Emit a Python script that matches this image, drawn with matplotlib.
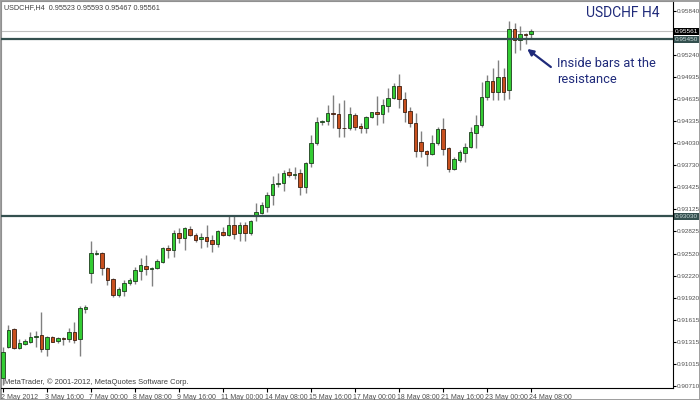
import numpy as np
import matplotlib
matplotlib.use("Agg")
import matplotlib.pyplot as plt
import matplotlib.transforms as mtransforms

plt.rcParams["font.family"] = ["Liberation Sans", "DejaVu Sans"]

# USDCHF H4 candles, 2 May 08:00 -> 24 May 08:00
opens = [0.90819, 0.91243, 0.91489, 0.91229, 0.91284, 0.91311, 0.91380, 0.91407, 0.91216, 0.91380,
         0.91325, 0.91366, 0.91353, 0.91448, 0.91353, 0.91763, 0.92255, 0.92515, 0.92529, 0.92324,
         0.92173, 0.91954, 0.92009, 0.92119, 0.92146, 0.92283, 0.92351, 0.92310, 0.92324, 0.92406,
         0.92597, 0.92570, 0.92803, 0.92734, 0.92857, 0.92775, 0.92721, 0.92748, 0.92707, 0.92652,
         0.92816, 0.92775, 0.92912, 0.92803, 0.92912, 0.92803, 0.93035, 0.93076, 0.93158, 0.93322,
         0.93473, 0.93487, 0.93637, 0.93596, 0.93623, 0.93432, 0.93760, 0.94034, 0.94321, 0.94335,
         0.94444, 0.94431, 0.94239, 0.94239, 0.94417, 0.94266, 0.94239, 0.94389, 0.94458, 0.94431,
         0.94540, 0.94649, 0.94814, 0.94636, 0.94472, 0.94307, 0.94047, 0.93924, 0.93883, 0.94034,
         0.94225, 0.93965, 0.93678, 0.93801, 0.93897, 0.93979, 0.94171, 0.94280, 0.94663, 0.94882,
         0.94731, 0.94937, 0.94759, 0.95593, 0.95443, 0.95525, 0.95523]
highs = [0.91243, 0.91544, 0.91503, 0.91353, 0.91353, 0.91448, 0.91462, 0.91722, 0.91394, 0.91394,
         0.91380, 0.91380, 0.91503, 0.91585, 0.91804, 0.91818, 0.92693, 0.92570, 0.92543, 0.92337,
         0.92187, 0.92064, 0.92160, 0.92187, 0.92337, 0.92461, 0.92502, 0.92337, 0.92447, 0.92611,
         0.92638, 0.92844, 0.92871, 0.92885, 0.92898, 0.92803, 0.92803, 0.92912, 0.92775, 0.92844,
         0.92885, 0.93049, 0.93049, 0.92953, 0.92953, 0.92980, 0.93213, 0.93227, 0.93363, 0.93582,
         0.93623, 0.93664, 0.93692, 0.93705, 0.93678, 0.93774, 0.94143, 0.94389, 0.94348, 0.94554,
         0.94690, 0.94581, 0.94622, 0.94526, 0.94444, 0.94307, 0.94403, 0.94458, 0.94677, 0.94636,
         0.94786, 0.94855, 0.94978, 0.94731, 0.94526, 0.94444, 0.94198, 0.93938, 0.94143, 0.94253,
         0.94376, 0.93979, 0.93842, 0.93938, 0.94034, 0.94253, 0.94417, 0.94868, 0.94964, 0.95060,
         0.95169, 0.95060, 0.95703, 0.95675, 0.95634, 0.95539, 0.95593]
lows = [0.90723, 0.91229, 0.91216, 0.91216, 0.91270, 0.91298, 0.91243, 0.91175, 0.91120, 0.91311,
        0.91298, 0.91270, 0.91311, 0.91298, 0.91120, 0.91708, 0.92119, 0.92502, 0.92228, 0.92091,
        0.91927, 0.91927, 0.91941, 0.92091, 0.92105, 0.92160, 0.92228, 0.92078, 0.92310, 0.92392,
        0.92461, 0.92474, 0.92666, 0.92570, 0.92762, 0.92679, 0.92597, 0.92611, 0.92543, 0.92611,
        0.92762, 0.92762, 0.92721, 0.92693, 0.92693, 0.92775, 0.92967, 0.93063, 0.93090, 0.93186,
        0.93432, 0.93377, 0.93569, 0.93541, 0.93322, 0.93350, 0.93705, 0.94006, 0.94280, 0.94280,
        0.94239, 0.94116, 0.94116, 0.94212, 0.94212, 0.94171, 0.94171, 0.94376, 0.94280, 0.94307,
        0.94458, 0.94636, 0.94513, 0.94321, 0.94253, 0.93842, 0.93842, 0.93719, 0.93870, 0.94006,
        0.93870, 0.93637, 0.93664, 0.93774, 0.93774, 0.93965, 0.93965, 0.94253, 0.94622, 0.94622,
        0.94622, 0.94622, 0.94636, 0.95265, 0.95306, 0.95388, 0.95467]
closes = [0.91175, 0.91476, 0.91229, 0.91298, 0.91325, 0.91380, 0.91394, 0.91216, 0.91380, 0.91311,
          0.91366, 0.91353, 0.91448, 0.91339, 0.91777, 0.91790, 0.92529, 0.92529, 0.92324, 0.92160,
          0.91954, 0.92037, 0.92119, 0.92160, 0.92296, 0.92365, 0.92310, 0.92324, 0.92420, 0.92597,
          0.92570, 0.92803, 0.92734, 0.92871, 0.92775, 0.92707, 0.92748, 0.92693, 0.92652, 0.92830,
          0.92775, 0.92912, 0.92789, 0.92912, 0.92803, 0.92967, 0.93090, 0.93186, 0.93322, 0.93473,
          0.93487, 0.93623, 0.93596, 0.93610, 0.93432, 0.93760, 0.94034, 0.94321, 0.94335, 0.94444,
          0.94431, 0.94239, 0.94232, 0.94431, 0.94253, 0.94239, 0.94389, 0.94458, 0.94431, 0.94554,
          0.94649, 0.94814, 0.94636, 0.94458, 0.94307, 0.93924, 0.93924, 0.93883, 0.94034, 0.94225,
          0.93952, 0.93678, 0.93815, 0.93911, 0.93979, 0.94184, 0.94280, 0.94663, 0.94882, 0.94731,
          0.94937, 0.94731, 0.95593, 0.95443, 0.95525, 0.95511, 0.95561]

date_labels = ["2 May 2012", "3 May 16:00", "7 May 00:00", "8 May 08:00", "9 May 16:00",
               "11 May 00:00", "14 May 08:00", "15 May 16:00", "17 May 00:00", "18 May 08:00",
               "21 May 16:00", "23 May 00:00", "24 May 08:00"]
price_ticks = [0.95840, 0.95240, 0.94935, 0.94635, 0.94335, 0.94030, 0.93730, 0.93425,
               0.93125, 0.92825, 0.92520, 0.92220, 0.91920, 0.91615, 0.91315, 0.91015, 0.90710]
resistance = 0.95450
support = 0.93030
last_price = 0.95561

o = np.array(opens); h = np.array(highs); l = np.array(lows); c = np.array(closes)
x = np.arange(len(o))

fig = plt.figure(figsize=(7, 4), dpi=100)
fig.patch.set_facecolor("white")
ax = fig.add_axes([1 / 700, 12 / 400, 672 / 700, 387 / 400])
ax.set_xlim(-0.36, 121.8)
ax.set_ylim(0.90682, 0.95976)

up = c >= o
green, red, wick = "#33cc33", "#c8501e", "#808080"

ax.vlines(x, l, h, color=wick, lw=1, zorder=2)
body_h = np.maximum(np.abs(c - o), 0.00004)
ax.bar(x[up], body_h[up], bottom=np.minimum(o, c)[up], width=0.6,
       color=green, edgecolor="#1e3d1e", lw=0.6, zorder=3)
ax.bar(x[~up], body_h[~up], bottom=np.minimum(o, c)[~up], width=0.6,
       color=red, edgecolor="#3d1e10", lw=0.6, zorder=3)

# levels
ax.axhline(last_price, color="#c0c0c0", lw=0.8, zorder=1)
ax.axhline(resistance, color="#34504f", lw=1.6, zorder=4)
ax.axhline(support, color="#34504f", lw=1.6, zorder=4)

trans = mtransforms.blended_transform_factory(ax.transAxes, ax.transData)
for val, fc, tc in [(last_price, "black", "white"), (resistance, "#34504f", "#c8d8d8"),
                    (support, "#34504f", "#c8d8d8")]:
    ax.text(1.003, val, f"{val:.5f}", transform=trans, fontsize=4.6, color=tc,
            va="center", ha="left", clip_on=False,
            bbox=dict(boxstyle="square,pad=0.12", fc=fc, ec="none"), zorder=6)

# axes styling
for s in ["left", "top"]:
    ax.spines[s].set_color("#909090")
for s in ["right", "bottom"]:
    ax.spines[s].set_color("black")
ax.yaxis.tick_right()
ax.set_yticks(price_ticks)
ax.set_yticklabels([f"{p:.5f}" for p in price_ticks])
ax.tick_params(axis="y", direction="out", length=2, pad=0.8, labelsize=4.6, labelcolor="#505050")
ax.set_xticks(np.arange(0, 8 * len(date_labels), 8))
ax.set_xticklabels(date_labels, ha="left")
ax.tick_params(axis="x", direction="out", length=3, pad=1, labelsize=5, labelcolor="#505050")
for lab in ax.get_xticklabels():
    lab.set_transform(lab.get_transform() + mtransforms.ScaledTranslation(-2 / 100, 0, fig.dpi_scale_trans))

ax.text(0.004, 0.992, "USDCHF,H4  0.95523 0.95593 0.95467 0.95561", transform=ax.transAxes,
        fontsize=5.2, color="#404040", va="top", ha="left")
ax.text(0.004, 0.006, "MetaTrader, \u00a9 2001-2012, MetaQuotes Software Corp.", transform=ax.transAxes,
        fontsize=5.4, color="#404040", va="bottom", ha="left")
ax.text(0.98, 0.988, "USDCHF H4", transform=ax.transAxes, fontsize=10, color="#1f2a7a",
        va="top", ha="right", family="Roboto")

navy = "#1f2a7a"
ax.text(100.7, 0.95012, "Inside bars at the\nresistance", fontsize=9.3, color=navy,
        va="center", ha="left", family="Roboto", linespacing=1.25)
ax.annotate("", xy=(95.3, 0.95320), xytext=(99.6, 0.95073),
            arrowprops=dict(arrowstyle="-|>", color=navy, lw=1.6, mutation_scale=9,
                            shrinkA=0, shrinkB=0))

fig.patch.set_edgecolor("#a0a0a0")
fig.patch.set_linewidth(0.8)
fig.savefig("out.png", dpi=100, facecolor=fig.get_facecolor(), edgecolor=fig.get_edgecolor())
